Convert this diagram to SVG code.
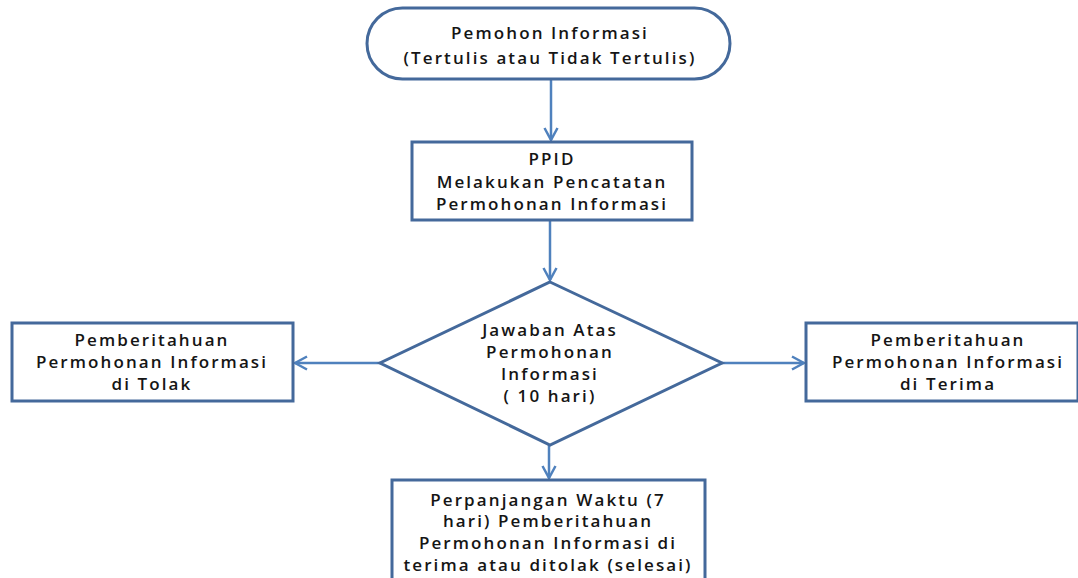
<svg xmlns="http://www.w3.org/2000/svg" width="1078" height="578" viewBox="0 0 1078 578">
  <style>
    .shape { fill: #ffffff; stroke: #44699b; stroke-width: 3; }
    .label { font-family: "Open Sans", "Liberation Sans", sans-serif; font-weight: 600; font-size: 17px; fill: #151515; text-anchor: middle; letter-spacing: 2.1px; }
    .link { fill: none; stroke: #4f81bd; stroke-width: 2.5; }
  </style>
  <defs>
    <marker id="chevron" viewBox="0 0 16 16" refX="14" refY="8" markerWidth="16" markerHeight="16" markerUnits="userSpaceOnUse" orient="auto">
      <path d="M2,1.5 L14,8 L2,14.5" fill="none" stroke="#4f81bd" stroke-width="2.5"/>
    </marker>
  </defs>

  <rect width="1078" height="578" fill="#ffffff"/>

  <!-- connectors -->
  <g id="connectors">
    <line class="link" x1="551" y1="79" x2="551" y2="140" marker-end="url(#chevron)"/>
    <line class="link" x1="550" y1="220" x2="550" y2="280" marker-end="url(#chevron)"/>
    <line class="link" x1="380" y1="363" x2="295" y2="363" marker-end="url(#chevron)"/>
    <line class="link" x1="722" y1="363" x2="804" y2="363" marker-end="url(#chevron)"/>
    <line class="link" x1="549" y1="445" x2="549" y2="478" marker-end="url(#chevron)"/>
  </g>

  <!-- start terminal -->
  <g id="node-pemohon">
    <rect class="shape" x="367" y="8" width="363" height="71" rx="35.5" ry="35.5"/>
    <text class="label" x="550" y="39">Pemohon Informasi</text>
    <text class="label" x="550" y="64">(Tertulis atau Tidak Tertulis)</text>
  </g>

  <!-- registration step -->
  <g id="node-ppid">
    <rect class="shape" x="412" y="142" width="280" height="78"/>
    <text class="label" x="552" y="165">PPID</text>
    <text class="label" x="552" y="188">Melakukan Pencatatan</text>
    <text class="label" x="552" y="210">Permohonan Informasi</text>
  </g>

  <!-- decision -->
  <g id="node-jawaban">
    <polygon class="shape" points="550,282 722,363 550,445 380,363"/>
    <text class="label" x="550" y="336">Jawaban Atas</text>
    <text class="label" x="550" y="358">Permohonan</text>
    <text class="label" x="550" y="380">Informasi</text>
    <text class="label" x="550" y="402">( 10 hari)</text>
  </g>

  <!-- rejected -->
  <g id="node-tolak">
    <rect class="shape" x="12" y="323" width="281" height="78"/>
    <text class="label" x="152" y="346">Pemberitahuan</text>
    <text class="label" x="152" y="368">Permohonan Informasi</text>
    <text class="label" x="152" y="390">di Tolak</text>
  </g>

  <!-- accepted -->
  <g id="node-terima">
    <rect class="shape" x="806" y="323" width="272" height="78"/>
    <text class="label" x="948" y="346">Pemberitahuan</text>
    <text class="label" x="948" y="368">Permohonan Informasi</text>
    <text class="label" x="948" y="390">di Terima</text>
  </g>

  <!-- extension -->
  <g id="node-perpanjangan">
    <rect class="shape" x="392" y="480" width="313" height="110"/>
    <text class="label" x="548" y="506">Perpanjangan Waktu (7</text>
    <text class="label" x="548" y="527">hari) Pemberitahuan</text>
    <text class="label" x="548" y="549">Permohonan Informasi di</text>
    <text class="label" x="548" y="571">terima atau ditolak (selesai)</text>
  </g>
</svg>
